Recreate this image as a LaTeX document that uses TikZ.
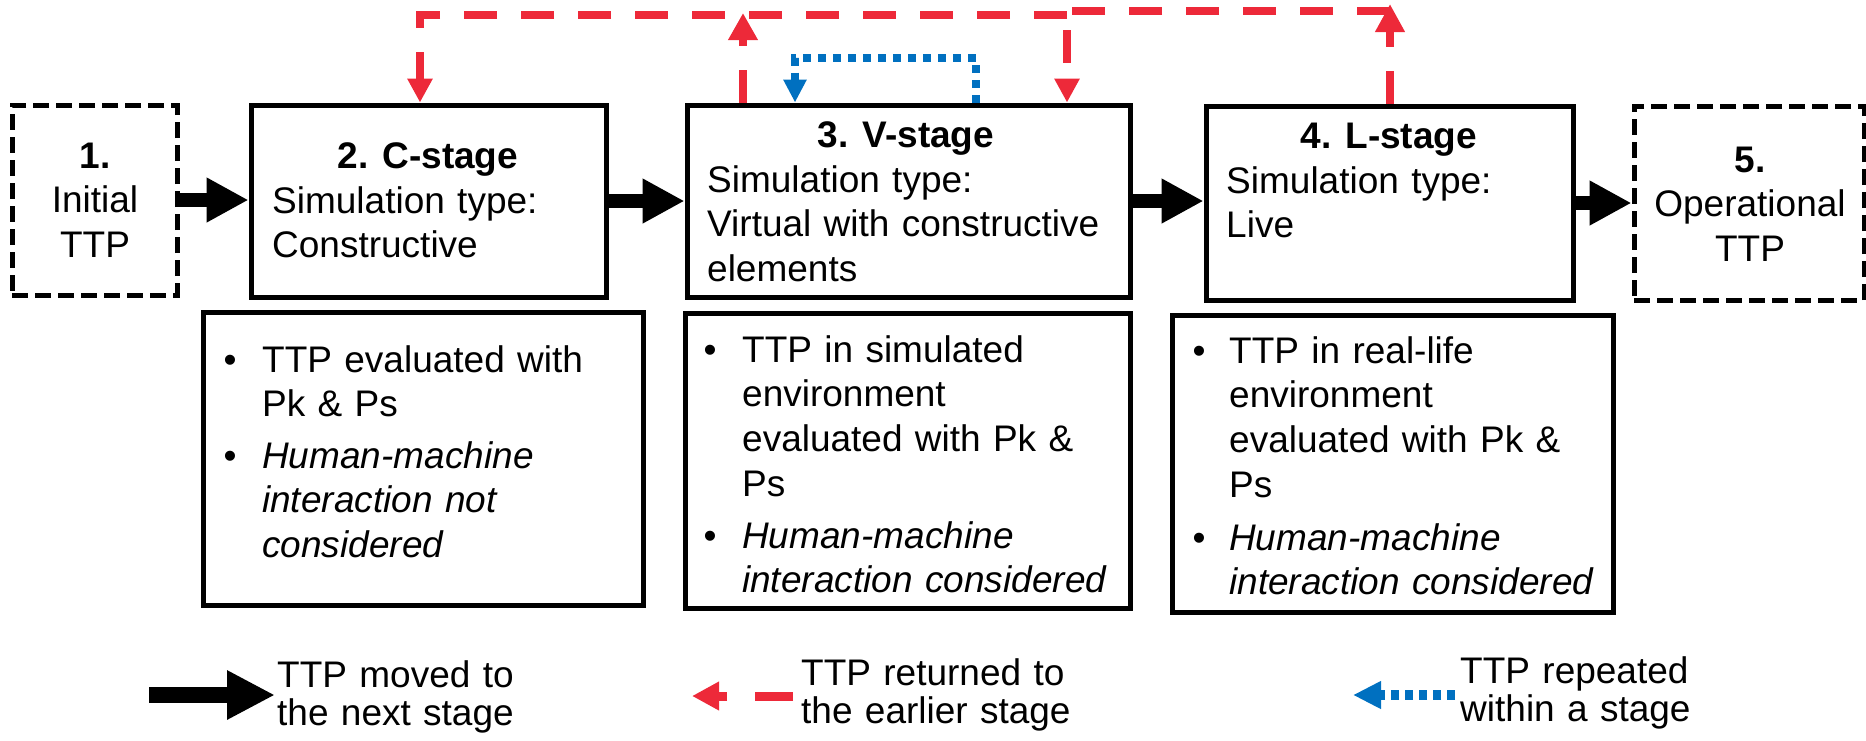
\documentclass[tikz,border=0pt]{standalone}
\usepackage{fontspec}
\setmainfont{Liberation Sans}
\usetikzlibrary{arrows.meta}
\definecolor{redc}{RGB}{237,41,57}
\definecolor{bluec}{RGB}{0,112,192}
\begin{document}
\begin{tikzpicture}[x=1pt,y=-1pt,
  box/.style={draw, line width=5pt, inner sep=0pt},
  dbox/.style={box, dash pattern=on 16pt off 7pt},
  txt/.style={inner sep=0pt, font=\fontsize{37}{44.7}\selectfont},
  ttl/.style={txt, font=\fontsize{37}{44.7}\selectfont\bfseries, anchor=base},
  body/.style={txt, text width=420pt, align=left, anchor=base west},
  cbody/.style={txt, text width=220pt, align=center, anchor=base},
  itbody/.style={body, font=\fontsize{37}{44.7}\selectfont\itshape},
  bul/.style={txt, anchor=base},
  leg/.style={inner sep=0pt, font=\fontsize{37}{38}\selectfont, text width=360pt, align=left, anchor=base west},
  fwd/.style={line width=14pt, -{Triangle[length=42pt,width=42pt]}},
  ret/.style={color=redc, line width=7.5pt, dash pattern=on 33pt off 24pt},
  rep/.style={color=bluec, line width=8pt, dash pattern=on 8pt off 7pt},
]
\useasboundingbox (0,0) rectangle (1866,740);

% stage boxes
\node[dbox, minimum width=165pt, minimum height=190pt] (b1) at (94.5,200) {};
\node[box, minimum width=355pt, minimum height=192pt] (b2) at (428.5,201) {};
\node[box, minimum width=443pt, minimum height=192pt] (b3) at (908.5,201) {};
\node[box, minimum width=367pt, minimum height=194pt] (b4) at (1389.5,203) {};
\node[dbox, minimum width=230pt, minimum height=194pt] (b5) at (1749,203) {};

% stage texts
\node[cbody] (t1) at (95,168) {\textbf{1.}\\Initial\\TTP};
\node[ttl] (t2h) at (428,168) {2. C-stage};
\node[body] (t2) at (272,213) {Simulation type:\\Constructive};
\node[ttl] (t3h) at (906,147) {3. V-stage};
\node[body] (t3) at (707,192) {Simulation type:\\Virtual with constructive\\elements};
\node[ttl] (t4h) at (1389,148) {4. L-stage};
\node[body] (t4) at (1226,193) {Simulation type:\\Live};
\node[cbody] (t5) at (1750,172) {\textbf{5.}\\Operational\\TTP};

% description boxes
\node[box, minimum width=440pt, minimum height=293pt] (d2) at (423,458.5) {};
\node[box, minimum width=445pt, minimum height=295pt] (d3) at (907.5,460.5) {};
\node[box, minimum width=441pt, minimum height=297pt] (d4) at (1392.5,463.5) {};

\node[bul] (d2b1) at (230,372) {•};
\node[body] (d2t1) at (262,372) {TTP evaluated with\\Pk \& Ps};
\node[bul] (d2b2) at (230,468) {•};
\node[itbody] (d2t2) at (262,468) {Human-machine\\interaction not\\considered};

\node[bul] (d3b1) at (710,362) {•};
\node[body] (d3t1) at (742,362) {TTP in simulated\\environment\\evaluated with Pk \&\\Ps};
\node[bul] (d3b2) at (710,548) {•};
\node[itbody] (d3t2) at (742,548) {Human-machine\\interaction considered};

\node[bul] (d4b1) at (1199,363) {•};
\node[body] (d4t1) at (1229,363) {TTP in real-life\\environment\\evaluated with Pk \&\\Ps};
\node[bul] (d4b2) at (1199,550) {•};
\node[itbody] (d4t2) at (1229,550) {Human-machine\\interaction considered};

% forward arrows
\draw[fwd] (b1.east) -- (b1.east -| b2.west);
\draw[fwd] (b2.east) -- (b2.east -| b3.west);
\draw[fwd] (b3.east) -- (b3.east -| b4.west);
\draw[fwd] (b4.east) -- (b4.east -| b5.west);

% return (red dashed) connectors
\coordinate (ra) at (1067,15);
\coordinate (rb) at (420,15);
\coordinate (rc) at (743,13);
\coordinate (rd) at (1390,11);
\coordinate (re) at (1067,11);
\coordinate (rf) at (1390,4);
\draw[ret, -{Triangle[length=24pt,width=24pt]}] (ra) -- (rb) -- (b2.north -| rb);
\draw[ret, -{Triangle[length=27pt,width=28pt]}] (b3.north -| rc) -- (rc);
\draw[ret, -{Triangle[length=24pt,width=24pt]}] (rd) -- (re) -- (b3.north -| re);
\draw[ret, -{Triangle[length=28pt,width=28pt]}] (b4.north -| rf) -- (rf);

% repeat (blue dotted) connector
\coordinate (ba) at (976,58);
\coordinate (bb) at (795,58);
\draw[rep, -{Triangle[length=23pt,width=22pt]}] (b3.north -| ba) -- (ba) -- (bb) -- (b3.north -| bb);

% legend
\coordinate (l1a) at (149,695);
\coordinate (l1b) at (275,695);
\draw[line width=16pt, -{Triangle[length=48pt,width=46pt]}] (l1a) -- (l1b);
\node[leg] (lt1) at (277,687) {TTP moved to\\the next stage};

\coordinate (l2a) at (793,696);
\coordinate (l2b) at (692,696);
\draw[color=redc, line width=9pt, dash pattern=on 38pt off 28pt, -{Triangle[length=27pt,width=27pt]}] (l2a) -- (l2b);
\node[leg] (lt2) at (801,685) {TTP returned to\\the earlier stage};

\coordinate (l3a) at (1455,695);
\coordinate (l3b) at (1353,695);
\draw[color=bluec, line width=10pt, dash pattern=on 8pt off 6pt, -{Triangle[length=28pt,width=26pt]}] (l3a) -- (l3b);
\node[leg] (lt3) at (1460,683) {TTP repeated\\within a stage};
\end{tikzpicture}
\end{document}
